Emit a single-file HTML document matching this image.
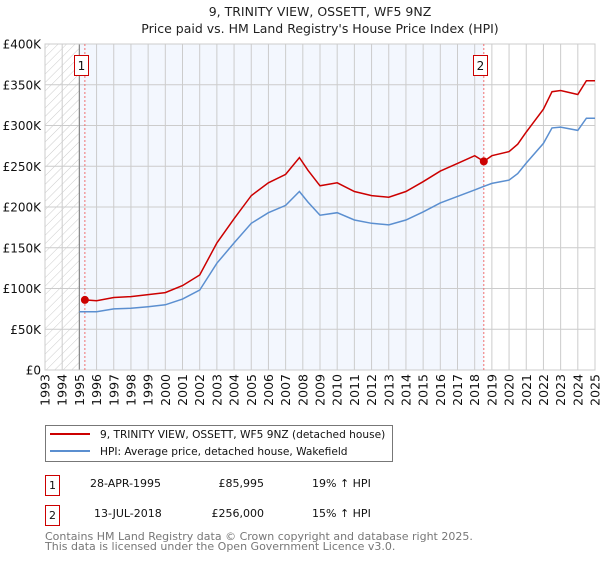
<!DOCTYPE html>
<html><head><meta charset="utf-8"><style>
body{margin:0;background:#fff;width:600px;height:560px;overflow:hidden;font-family:"DejaVu Sans","Liberation Sans",sans-serif}
svg text{font-family:"DejaVu Sans","Liberation Sans",sans-serif}
</style></head><body>
<svg id="c" width="600" height="560" xmlns="http://www.w3.org/2000/svg">
<defs><pattern id="hatch" width="6" height="6" patternUnits="userSpaceOnUse" patternTransform="rotate(45)"><line x1="0" y1="0" x2="0" y2="6" stroke="#ccc" stroke-width="1"/></pattern></defs>
<text x="320" y="16" text-anchor="middle" font-size="12.5" fill="#222">9, TRINITY VIEW, OSSETT, WF5 9NZ</text>
<text x="320" y="33" text-anchor="middle" font-size="12.5" fill="#222">Price paid vs. HM Land Registry's House Price Index (HPI)</text>
<g id="plot"></g>
<g>
<rect x="45.5" y="425.5" width="347" height="36" fill="#fff" stroke="#777"/>
<line x1="50" y1="434" x2="90" y2="434" stroke="#cc0000" stroke-width="2"/>
<text x="100" y="438" font-size="10.6" fill="#111">9, TRINITY VIEW, OSSETT, WF5 9NZ (detached house)</text>
<line x1="50" y1="451" x2="90" y2="451" stroke="#5b8fd0" stroke-width="2"/>
<text x="100" y="455" font-size="10.6" fill="#111">HPI: Average price, detached house, Wakefield</text>
</g>
<g font-size="11" fill="#111">
<rect x="45.5" y="475.5" width="14" height="20" fill="#fff" stroke="#cc0000"/>
<text x="52.5" y="489" text-anchor="middle">1</text>
<text x="90" y="487">28-APR-1995</text><text x="264" y="487" text-anchor="end">£85,995</text><text x="312" y="487">19% ↑ HPI</text>
<rect x="45.5" y="505.5" width="14" height="20" fill="#fff" stroke="#cc0000"/>
<text x="52.5" y="519" text-anchor="middle">2</text>
<text x="94" y="517">13-JUL-2018</text><text x="264" y="517" text-anchor="end">£256,000</text><text x="312" y="517">15% ↑ HPI</text>
</g>
<text x="45" y="540" font-size="11" fill="#777">Contains HM Land Registry data © Crown copyright and database right 2025.</text>
<text x="45" y="550" font-size="11" fill="#777">This data is licensed under the Open Government Licence v3.0.</text>
</svg>
<script>
const hpiYears=[1995,1996,1997,1998,1999,2000,2001,2002,2003,2004,2005,2006,2007,2007.8,2008.3,2009,2010,2011,2012,2013,2014,2015,2016,2017,2018,2018.5,2019,2020,2020.5,2021,2022,2022.5,2023,2024,2024.5,2025];
const hpiValues=[71.5,71.5,75,75.7,77.7,80,87,98,131,156,180,193,202,219,206,190,193,184,180,178,184,194,205,213,221,225,229,233,241,254,278,297,298,294,309,309];
const redYears=[1995.32,1996,1997,1998,1999,2000,2001,2002,2003,2004,2005,2006,2007,2007.8,2008.3,2009,2010,2011,2012,2013,2014,2015,2016,2017,2018,2018.53,2019,2020,2020.5,2021,2022,2022.5,2023,2024,2024.5,2025];
const redValues=[86,85,89,90,92.5,95,103.5,116.6,156,185.6,214,229.7,240,260.6,245,226,229.7,219,214,212,219,231,244,253.5,263,256,263,268,277,292,320,341.5,343,338,355,355];
const saleYears=[1995.32,2018.53];
const saleValues=[85.995,256];
const saleLabels=["1","2"];
const yTicks=[0,50,100,150,200,250,300,350,400];
const yTickLabels=["£0","£50K","£100K","£150K","£200K","£250K","£300K","£350K","£400K"];
const xTicks=[];for(let y=1993;y<=2025;y++)xTicks.push(y);

const X0=45,X1=595,Y0=370,Y1=44;
const xs=y=>X0+(y-1993)/32*(X1-X0);
const ys=v=>Y0-v/400*(Y0-Y1);
const NS="http://www.w3.org/2000/svg";
const g=document.getElementById('plot');
function mk(t,a){const e=document.createElementNS(NS,t);for(const k in a)e.setAttribute(k,a[k]);g.appendChild(e);return e;}
let e;
e=mk('rect',{x:X0,y:Y1,width:X1-X0,height:Y0-Y1,fill:'#fff'});


e=mk('rect',{x:xs(1995),y:Y1,width:xs(saleYears[1])-xs(1995),height:Y0-Y1,fill:'#f3f7fe'});


e=mk('rect',{x:X0,y:Y1,width:xs(1995)-X0,height:Y0-Y1,fill:'url(#hatch)'});


yTicks.forEach((v,i)=>{
 e=mk('line',{x1:X0,x2:X1,y1:ys(v),y2:ys(v),stroke:'#ccc','stroke-width':1});
 
 
 e=mk('text',{x:X0-4,y:ys(v)+4.5,'text-anchor':'end','font-size':12,fill:'#111'});e.textContent=yTickLabels[i];
 
 
});
xTicks.forEach(y=>{
 e=mk('line',{x1:xs(y),x2:xs(y),y1:Y1,y2:Y0,stroke:'#ccc','stroke-width':1});
 
 
 e=mk('text',{x:0,y:0,'text-anchor':'end','font-size':12.5,fill:'#111',transform:`translate(${xs(y)+4.5},${Y0+4}) rotate(-90)`});e.textContent=y;
 
 
});
e=mk('line',{x1:xs(1995),x2:xs(1995),y1:Y1,y2:Y0,stroke:'#888','stroke-width':1.2});


e=mk('rect',{x:X0,y:Y1,width:X1-X0,height:Y0-Y1,fill:'none',stroke:'#ccc'});


saleYears.forEach((y,i)=>{
 e=mk('line',{x1:xs(y),x2:xs(y),y1:Y1,y2:Y0,stroke:'#f07070','stroke-width':1,'stroke-dasharray':'2,2'});
 
 
});
const path=(xa,va)=>xa.map((y,i)=>(i?'L':'M')+xs(y).toFixed(1)+','+ys(va[i]).toFixed(1)).join('');
e=mk('path',{d:path(hpiYears,hpiValues),fill:'none',stroke:'#5b8fd0','stroke-width':1.5});


e=mk('path',{d:path(redYears,redValues),fill:'none',stroke:'#cc0000','stroke-width':1.5});


saleYears.forEach((y,i)=>{
 e=mk('circle',{cx:xs(y),cy:ys(saleValues[i]),r:4,fill:'#cc0000'});
 
 
 e=mk('rect',{x:Math.round(xs(y))-10.5,y:55.5,width:14,height:20,fill:'#fff',stroke:'#cc0000'});
 
 
 e=mk('text',{x:Math.round(xs(y))-3.5,y:70,'text-anchor':'middle','font-size':12,fill:'#111'});e.textContent=saleLabels[i];
 
 
});
</script>
</body></html>
